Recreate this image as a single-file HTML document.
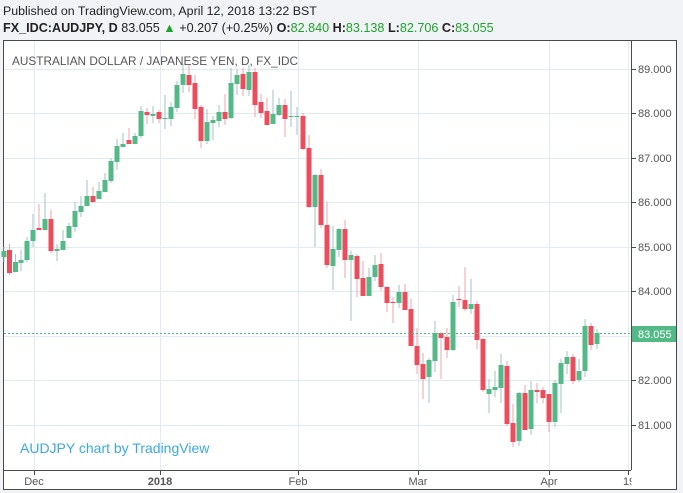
<!DOCTYPE html>
<html><head><meta charset="utf-8"><style>
body{margin:0;width:683px;height:493px;background:#f1f3f6;overflow:hidden;font-family:"Liberation Sans",sans-serif}
svg{position:absolute;left:0;top:0}
</style></head><body>
<svg width="683" height="493" viewBox="0 0 683 493">
<rect x="0" y="0" width="683" height="493" fill="#f1f3f6"/>
<text x="3" y="15" font-size="12.4" fill="#222" font-family="Liberation Sans, sans-serif">Published on TradingView.com, April 12, 2018 13:22 BST</text>
<text x="3" y="32" font-size="12.6" fill="#222" font-family="Liberation Sans, sans-serif"><tspan font-weight="bold">FX_IDC:AUDJPY, D</tspan> 83.055 <tspan fill="#1ea32a">▲</tspan> +0.207 (+0.25%) <tspan font-weight="bold">O:</tspan><tspan fill="#1ea32a">82.840</tspan> <tspan font-weight="bold">H:</tspan><tspan fill="#1ea32a">83.138</tspan> <tspan font-weight="bold">L:</tspan><tspan fill="#1ea32a">82.706</tspan> <tspan font-weight="bold">C:</tspan><tspan fill="#1ea32a">83.055</tspan></text>
<rect x="3.5" y="40.5" width="673" height="449" fill="#fff" stroke="#4a4a4a"/>
<g stroke="#e1ebf3" stroke-width="1">
<line x1="4" x2="631" y1="69.5" y2="69.5"/><line x1="4" x2="631" y1="113.5" y2="113.5"/><line x1="4" x2="631" y1="158.5" y2="158.5"/><line x1="4" x2="631" y1="202.5" y2="202.5"/><line x1="4" x2="631" y1="247.5" y2="247.5"/><line x1="4" x2="631" y1="291.5" y2="291.5"/><line x1="4" x2="631" y1="336.5" y2="336.5"/><line x1="4" x2="631" y1="380.5" y2="380.5"/><line x1="4" x2="631" y1="425.5" y2="425.5"/>
<line x1="34.5" x2="34.5" y1="41" y2="470"/><line x1="160.5" x2="160.5" y1="41" y2="470"/><line x1="298.5" x2="298.5" y1="41" y2="470"/><line x1="418.5" x2="418.5" y1="41" y2="470"/><line x1="549.5" x2="549.5" y1="41" y2="470"/><line x1="628.5" x2="628.5" y1="41" y2="470"/>
</g>
<text x="12" y="65" font-size="11.8" fill="#555" font-family="Liberation Sans, sans-serif">AUSTRALIAN DOLLAR / JAPANESE YEN, D, FX_IDC</text>
<g id="c"></g>
<line x1="4" x2="631" y1="333.5" y2="333.5" stroke="#53b987" stroke-dasharray="2,2"/>
<line x1="631.5" x2="631.5" y1="41" y2="470" stroke="#4a4a4a"/>
<line x1="4" x2="631" y1="470.5" y2="470.5" stroke="#4a4a4a"/>
<g stroke="#4a4a4a"><line x1="632" x2="636" y1="69.5" y2="69.5"/><line x1="632" x2="636" y1="113.5" y2="113.5"/><line x1="632" x2="636" y1="158.5" y2="158.5"/><line x1="632" x2="636" y1="202.5" y2="202.5"/><line x1="632" x2="636" y1="247.5" y2="247.5"/><line x1="632" x2="636" y1="291.5" y2="291.5"/><line x1="632" x2="636" y1="380.5" y2="380.5"/><line x1="632" x2="636" y1="425.5" y2="425.5"/>
<line x1="34.5" x2="34.5" y1="471" y2="475"/><line x1="160.5" x2="160.5" y1="471" y2="475"/><line x1="298.5" x2="298.5" y1="471" y2="475"/><line x1="418.5" x2="418.5" y1="471" y2="475"/><line x1="549.5" x2="549.5" y1="471" y2="475"/><line x1="628.5" x2="628.5" y1="471" y2="475"/></g>
<g font-size="11" fill="#555" font-family="Liberation Sans, sans-serif">
<text x="638" y="73">89.000</text><text x="638" y="117">88.000</text><text x="638" y="162">87.000</text><text x="638" y="206">86.000</text><text x="638" y="251">85.000</text><text x="638" y="295">84.000</text><text x="638" y="384">82.000</text><text x="638" y="429">81.000</text>
<text x="34" y="485" text-anchor="middle">Dec</text><text x="160" y="485" text-anchor="middle" font-weight="bold">2018</text><text x="298" y="485" text-anchor="middle">Feb</text><text x="418" y="485" text-anchor="middle">Mar</text><text x="549" y="485" text-anchor="middle">Apr</text><text x="623" y="485">19</text>
</g>
<rect x="632" y="326" width="44" height="16" fill="#53b987"/>
<text x="638" y="338" font-size="11" fill="#fff" font-family="Liberation Sans, sans-serif">83.055</text>
<rect x="631.5" y="470" width="44" height="19" fill="#fff"/>
<text x="20" y="453" font-size="14" fill="#3ba9e0" font-family="Liberation Sans, sans-serif">AUDJPY chart by TradingView</text>
</svg>
<script>
var d=[[4,247,262,251,257,1],[9.5,244,275,250,273,0],[15.5,254,272,262,272,1],[21,250,271,260,263,1],[27,237,262,241,260,1],[33,214,247,230,241,1],[39,204,230,228,230,0],[45,193,230,219,230,1],[51,210,253,219,251,0],[57,244,261,249,251,1],[63,230,250,241,250,1],[69,223,238,226,238,1],[75,202,232,211,227,1],[81,196,217,206,212,1],[87,180,206,196,206,1],[93,187,203,196,202,0],[99,182,199,191,199,1],[105,173,192,180,192,1],[111,158,183,161,181,1],[117,139,170,146,162,1],[123,133,147,144,147,1],[129,128,144,140,144,0],[135,133,144,136,144,1],[141,106,138,111,136,1],[147,108,124,112,115,0],[153,106,123,114,116,1],[159,110,123,112,119,0],[165,95,129,118,119,1],[171,102,126,107,119,1],[177,81,112,85,108,1],[183,64,93,74,85,1],[189,65,92,75,85,0],[195,75,119,83,109,0],[201,105,148,107,141,0],[207,109,144,122,141,1],[213,116,140,120,123,1],[219,105,127,112,121,1],[225,94,125,112,119,0],[231,68,119,83,118,1],[237,69,95,75,84,1],[243,68,96,74,89,0],[249,65,96,72,90,1],[255,68,117,72,105,0],[261,94,118,102,113,0],[267,98,125,111,125,0],[273,90,124,114,124,1],[279,98,116,105,115,1],[285,99,137,105,119,0],[291,91,127,116,117,1],[297,107,135,116,117,1],[303,113,150,116,149,0],[309,135,208,148,207,0],[315,174,247,175,207,1],[321,169,228,175,225,0],[327,202,268,225,265,0],[333,226,290,249,266,1],[339,228,257,229,250,1],[345,220,278,229,260,0],[351,251,321,255,260,1],[357,254,297,256,279,0],[363,261,296,278,296,0],[369,268,296,277,296,1],[375,255,281,265,277,1],[381,253,291,264,287,0],[387,286,312,287,303,0],[393,297,323,302,303,0],[399,285,308,292,303,1],[405,284,310,292,310,0],[411,299,346,309,346,0],[417,328,374,346,365,0],[423,353,399,364,379,0],[429,358,403,360,377,1],[435,321,372,333,361,1],[441,332,379,333,338,0],[447,328,358,337,350,0],[453,295,351,302,350,1],[459,286,307,299,300,0],[465,267,311,300,309,0],[471,279,314,304,309,1],[477,301,349,304,340,0],[483,338,392,339,390,0],[489,379,413,389,394,1],[495,371,397,387,390,1],[501,354,403,365,388,1],[507,361,426,366,424,0],[513,404,447,423,442,0],[519,392,446,393,441,1],[525,385,430,393,430,0],[531,381,435,390,429,1],[537,383,403,390,392,0],[543,387,403,390,398,0],[549,394,432,394,422,0],[555,380,427,383,422,1],[561,359,413,363,384,1],[567,351,374,357,364,1],[573,354,384,357,381,0],[579,359,382,371,380,1],[585,319,377,326,371,1],[591,323,350,326,345,0],[597,329,349,333,344,1]];
var s='';
d.forEach(function(c){var g=c[5],wc=g?'#9fc6c2':'#f2a3aa',bc=g?'#53b987':'#eb4d5c';
s+='<line x1="'+c[0]+'" x2="'+c[0]+'" y1="'+c[1]+'" y2="'+c[2]+'" stroke="'+wc+'" stroke-width="1"/>';
s+='<rect x="'+(c[0]-2.5)+'" y="'+c[3]+'" width="5" height="'+Math.max(1,c[4]-c[3])+'" fill="'+bc+'"/>';});
document.getElementById('c').innerHTML=s;
</script>
</body></html>
